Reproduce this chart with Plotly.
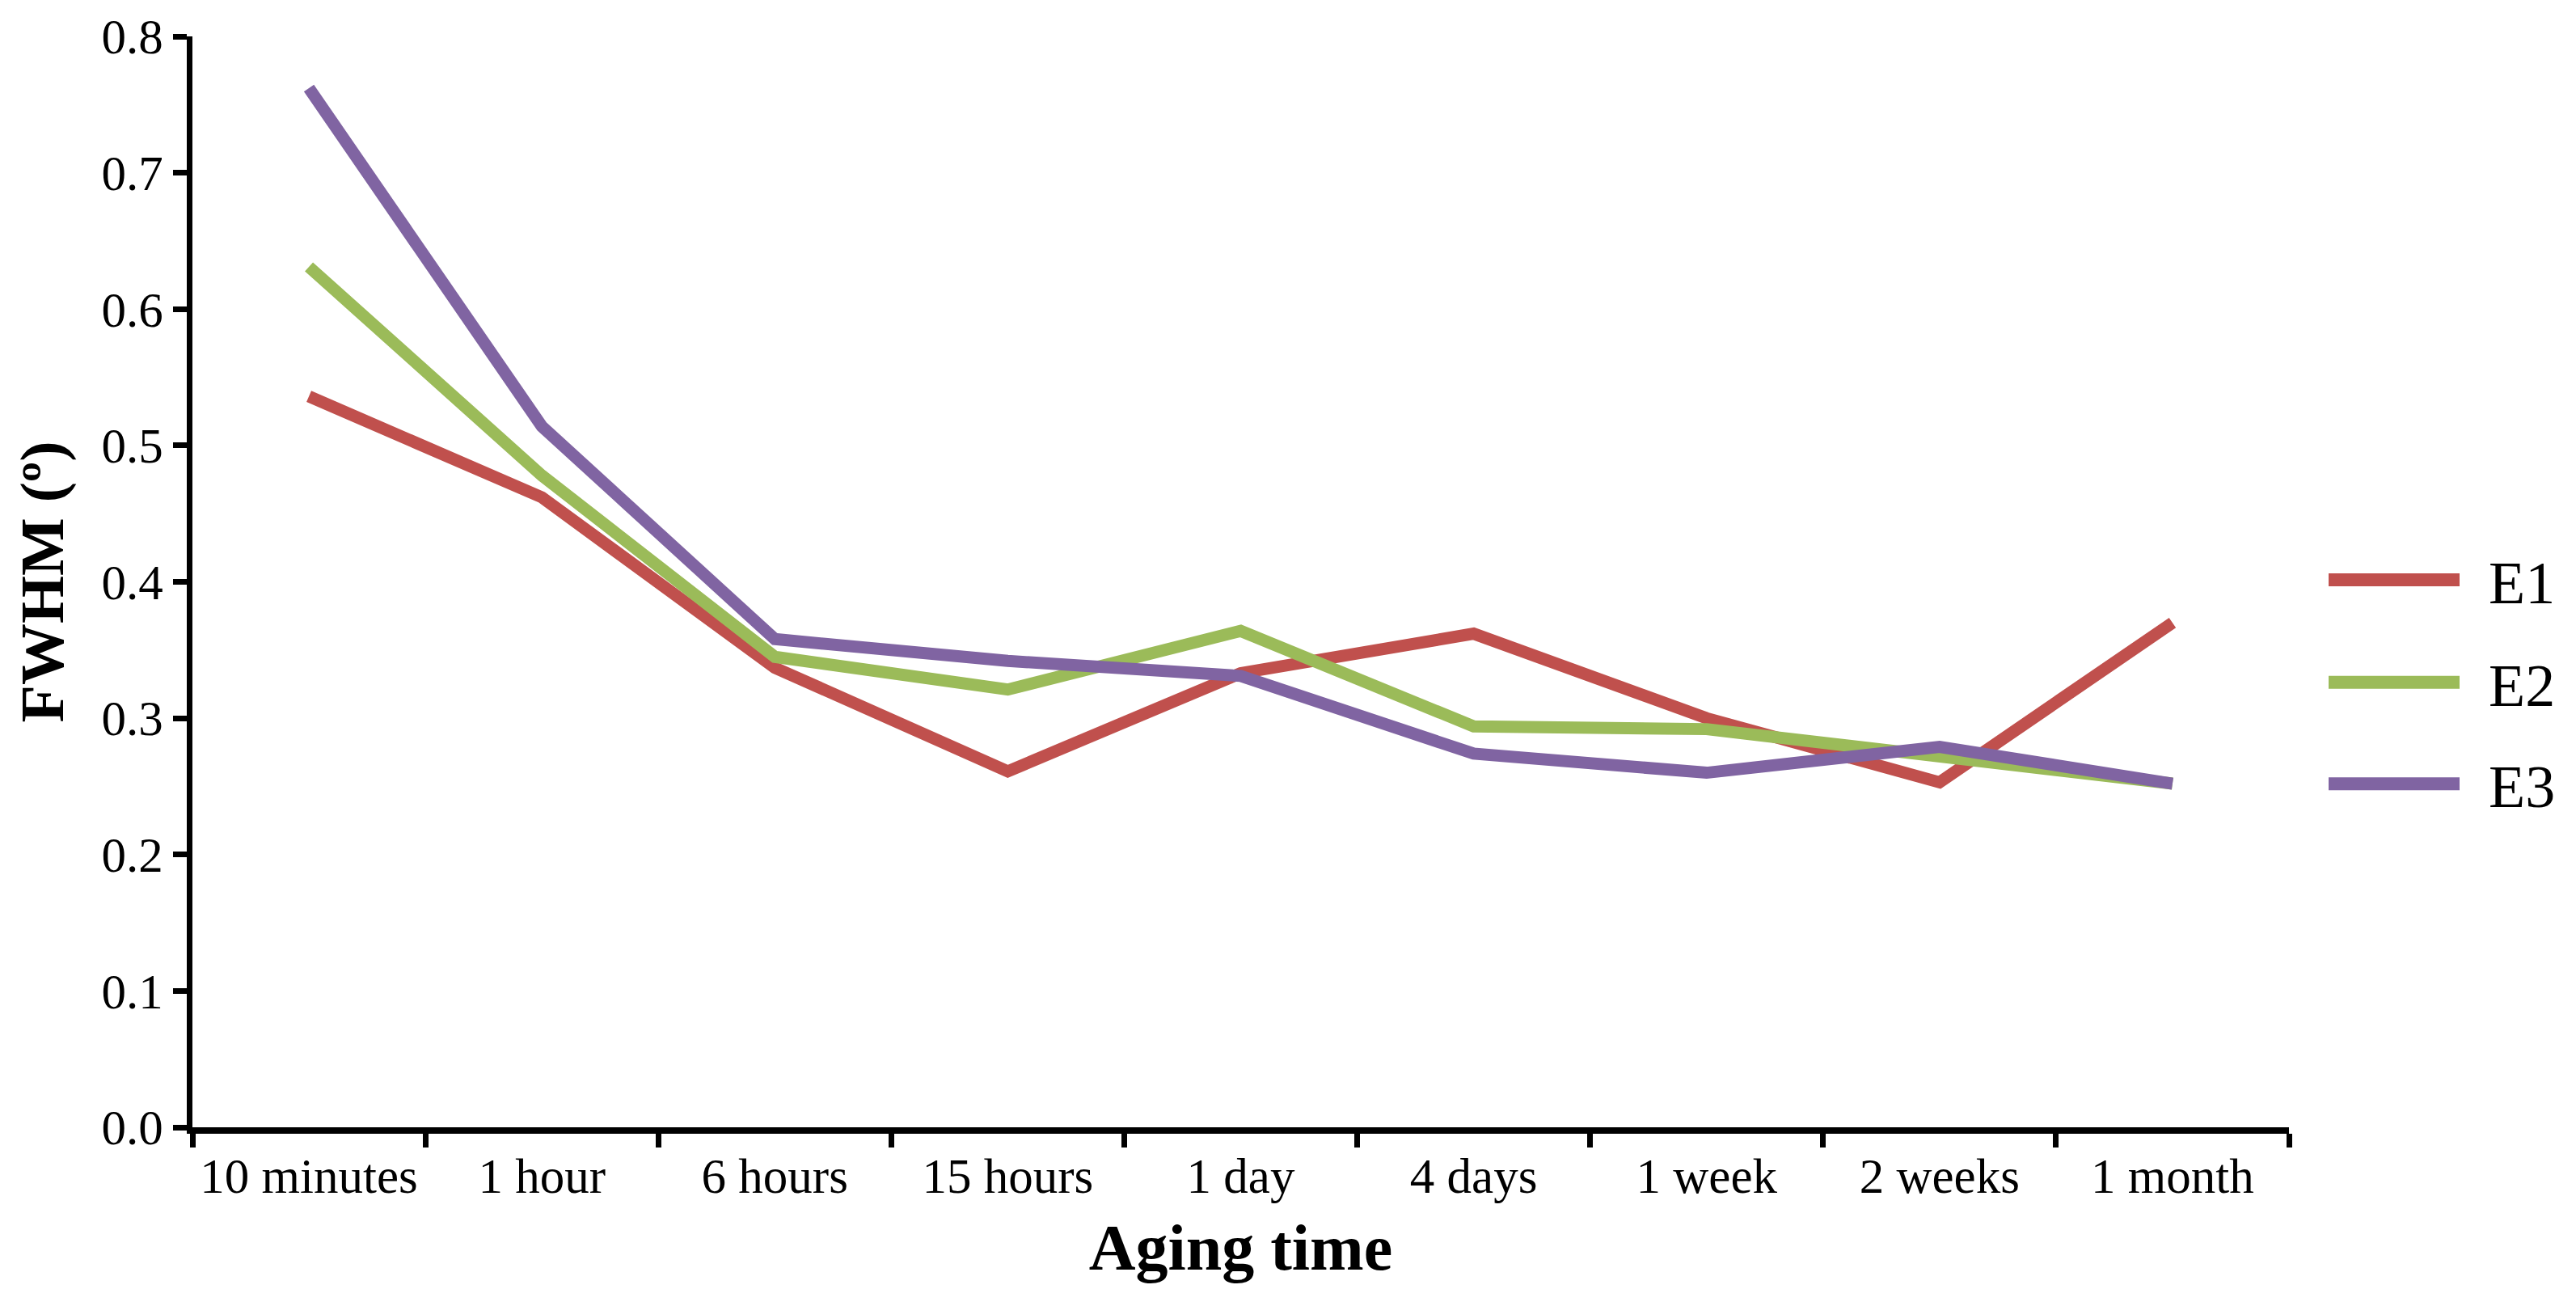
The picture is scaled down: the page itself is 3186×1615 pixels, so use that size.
import plotly.graph_objects as go

categories = ["10 minutes", "1 hour", "6 hours", "15 hours", "1 day",
              "4 days", "1 week", "2 weeks", "1 month"]
e1 = [0.536, 0.462, 0.337, 0.261, 0.333, 0.362, 0.300, 0.253, 0.370]
e2 = [0.631, 0.478, 0.345, 0.321, 0.364, 0.294, 0.292, 0.271, 0.252]
e3 = [0.762, 0.514, 0.358, 0.342, 0.331, 0.274, 0.260, 0.279, 0.252]
series_names = ["E1", "E2", "E3"]
series_colors = ["#C0504D", "#9BBB59", "#8064A2"]
y_ticks = [0.0, 0.1, 0.2, 0.3, 0.4, 0.5, 0.6, 0.7, 0.8]

W, H = 3186, 1615
L, R, T, B = 238, 355, 41, 221
FONT = "Liberation Serif"
LW = 15

fig = go.Figure()
for name, vals, col in zip(series_names, [e1, e2, e3], series_colors):
    fig.add_trace(go.Scatter(x=categories, y=vals, mode="lines", name=name,
                             line=dict(color=col, width=LW), showlegend=False))

pw = W - L - R
ph = H - T - B


def px_x(px):
    return (px - L) / pw


def px_y(py):
    return (H - B - py) / ph


# manual legend (long line samples)
leg_rows = [715, 842, 968]
shapes = []
annots = []
for name, col, ry in zip(series_names, series_colors, leg_rows):
    shapes.append(dict(type="line", xref="paper", yref="paper",
                       x0=px_x(2880), x1=px_x(3042), y0=px_y(ry), y1=px_y(ry),
                       line=dict(color=col, width=16)))
    annots.append(dict(xref="paper", yref="paper", x=px_x(3076), y=px_y(ry + 4),
                       text=name, showarrow=False, xanchor="left", yanchor="middle",
                       font=dict(family=FONT, size=74, color="black")))

fig.update_layout(
    width=W, height=H,
    margin=dict(l=L, r=R, t=T, b=B, pad=0),
    paper_bgcolor="white", plot_bgcolor="white",
    font=dict(family=FONT, color="black"),
    shapes=shapes, annotations=annots,
    xaxis=dict(type="category", range=[-0.5, 8.5], tickson="boundaries",
               ticks="outside", ticklen=17, tickwidth=7, tickcolor="black",
               showline=True, linecolor="black", linewidth=8,
               showgrid=False, zeroline=False,
               tickfont=dict(family=FONT, size=61, color="black"),
               title=dict(text="<b>Aging time</b>", standoff=30,
                          font=dict(family=FONT, size=80, color="black"))),
    yaxis=dict(range=[0, 0.8], tickvals=y_ticks, tickformat=".1f",
               ticks="outside", ticklen=17, tickwidth=7, tickcolor="black",
               showline=True, linecolor="black", linewidth=7,
               showgrid=False, zeroline=False,
               tickfont=dict(family=FONT, size=61, color="black"),
               title=dict(text="<b>FWHM (º)</b>", standoff=24,
                          font=dict(family=FONT, size=76, color="black"))),
)

fig.write_html("out.html", config={"displayModeBar": False})

# remove default page margin so the figure sits at the window origin
with open("out.html", "r", encoding="utf-8") as f:
    html = f.read()
html = html.replace("<body>", '<body style="margin:0;padding:0;overflow:hidden">', 1)
with open("out.html", "w", encoding="utf-8") as f:
    f.write(html)
